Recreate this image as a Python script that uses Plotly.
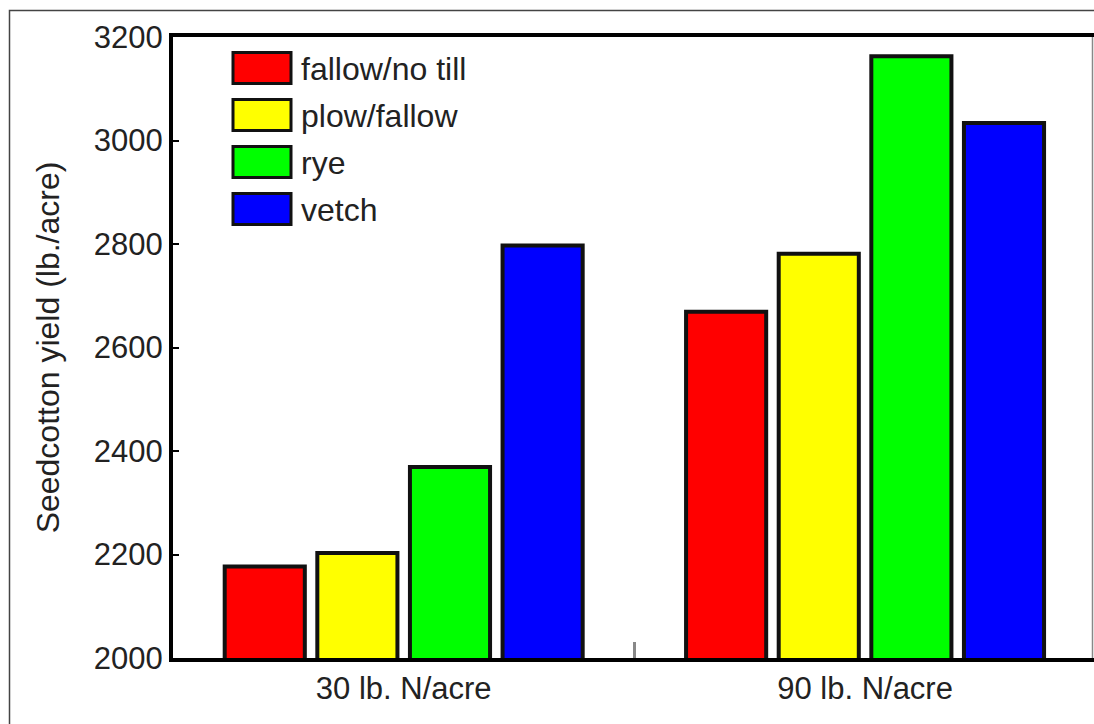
import plotly.graph_objects as go

categories = ["30 lb. N/acre", "90 lb. N/acre"]
series_names = ["fallow/no till", "plow/fallow", "rye", "vetch"]
series_colors = ["#FF0000", "#FFFF00", "#00FF00", "#0000FF"]
fallow_no_till = [2177, 2669]
plow_fallow = [2203, 2781]
rye = [2369, 3163]
vetch = [2797, 3034]
series_values = [fallow_no_till, plow_fallow, rye, vetch]
y_ticks = [2000, 2200, 2400, 2600, 2800, 3000, 3200]

W, H = 1094, 724
ML, MT, MB, MR = 173, 37, 66, 0
PW, PH = W - ML - MR, H - MT - MB


def px_x(x):  # page px -> paper
    return (x - ML) / PW


def px_y(y):  # page px -> paper
    return (H - MB - y) / PH


FONT = "Liberation Sans, Arial, Helvetica, sans-serif"
TXT = "#222222"

fig = go.Figure()
for name, vals, col in zip(series_names, series_values, series_colors):
    fig.add_trace(go.Bar(
        x=categories, y=vals, name=name,
        marker=dict(color=col, line=dict(color="#111111", width=4)),
        showlegend=False,
    ))

shapes = []
annotations = []
# custom legend
for i, (name, col) in enumerate(zip(series_names, series_colors)):
    cy = 68 + 47 * i
    shapes.append(dict(type="rect", xref="paper", yref="paper",
                       x0=px_x(233), x1=px_x(291), y0=px_y(cy + 15.5), y1=px_y(cy - 15.5),
                       fillcolor=col, line=dict(color="#111111", width=3)))
    annotations.append(dict(xref="paper", yref="paper", x=px_x(299), y=px_y(cy + 1),
                            text=name, showarrow=False, xanchor="left", yanchor="middle",
                            font=dict(family=FONT, size=32, color=TXT)))

# thin right border of plot
shapes.append(dict(type="line", xref="paper", yref="paper",
                   x0=px_x(1092.5), x1=px_x(1092.5), y0=0, y1=1,
                   line=dict(color="#888888", width=1.5)))
# outer frame
shapes.append(dict(type="rect", xref="paper", yref="paper",
                   x0=px_x(9.5), x1=px_x(1110), y0=px_y(740), y1=px_y(10.5),
                   line=dict(color="#444444", width=1.5), fillcolor="rgba(0,0,0,0)"))

fig.update_layout(
    width=W, height=H,
    margin=dict(l=ML, r=MR, t=MT, b=MB, pad=0),
    paper_bgcolor="white", plot_bgcolor="white",
    barmode="group", bargap=0.197, bargroupgap=0.135,
    shapes=shapes, annotations=annotations,
    font=dict(family=FONT, size=30, color=TXT),
    xaxis=dict(
        type="category", range=[-0.5, 1.4962],
        showline=True, linewidth=4, linecolor="black", mirror=True,
        tickson="boundaries", ticks="inside", ticklen=16, tickwidth=3, tickcolor="#888888",
        tickfont=dict(family=FONT, size=31, color=TXT),
        showgrid=False, zeroline=False,
    ),
    yaxis=dict(
        range=[2000, 3200], tickvals=y_ticks, ticktext=[str(v) for v in y_ticks],
        showline=True, linewidth=4, linecolor="black",
        ticks="inside", ticklen=6, tickwidth=2, tickcolor="black",
        tickfont=dict(family=FONT, size=31, color=TXT),
        showgrid=False, zeroline=False,
        title=dict(text="Seedcotton yield (lb./acre)", standoff=26,
                   font=dict(family=FONT, size=32, color=TXT)),
    ),
)

fig.write_html(
    "out.html",
    config={"displayModeBar": False},
    post_script="document.body.style.margin='0';document.body.style.overflow='hidden';",
)
